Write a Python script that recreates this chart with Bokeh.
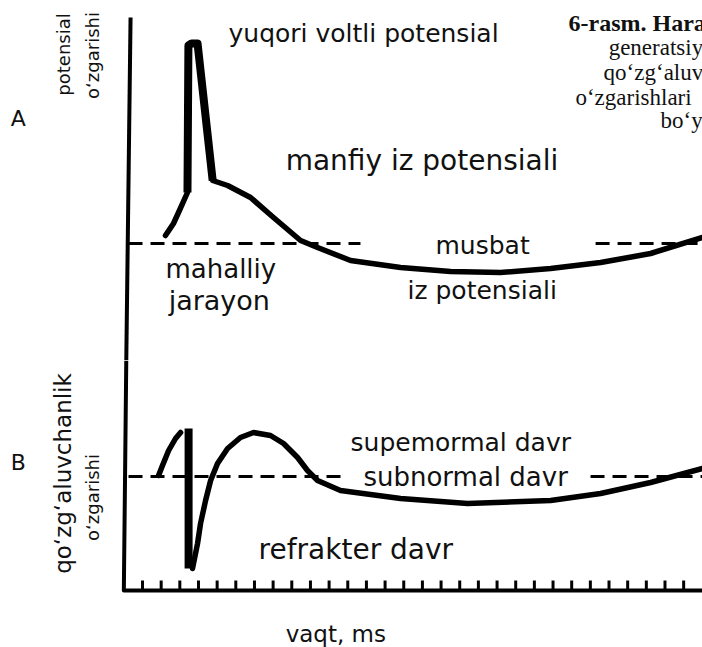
from bokeh.plotting import figure
from bokeh.layouts import column
from bokeh.models import Range1d
from bokeh.core.properties import value
from bokeh.embed import file_html
from bokeh.resources import INLINE
import math

# ---------------- data (time in tick units, ms) ----------------
# Panel A: membrane potential change (baseline = 0)
a_t = [2.23, 2.66, 2.93, 3.41, 3.46, 3.63, 3.95, 4.76, 5.56, 6.79, 8.02, 9.47,
       10.38, 12.15, 14.83, 17.51, 20.19, 22.87, 25.55, 28.23, 31.01]
a_v = [4.0, 10.0, 15.5, 25.5, 99.0, 100.0, 100.0, 31.5, 29.0, 23.0, 13.0, 1.5,
       -2.0, -8.5, -12.0, -14.0, -14.5, -12.5, -9.5, -5.0, 3.0]
# spike part (drawn heavier)
spike_t = [3.41, 3.46, 3.63, 3.95, 4.76]
spike_v = [25.5, 99.0, 100.0, 100.0, 31.5]

# Panel B: excitability change (baseline = 0)
b_left_t = [1.86, 2.07, 2.40, 2.77, 3.04]
b_left_e = [1, 11, 26, 38, 44]
b_bar_t = [3.47, 3.47]
b_bar_e = [48, -92]
b_right_t = [3.68, 3.95, 4.11, 4.38, 4.65, 5.02, 5.56, 6.25, 6.95, 7.86, 8.56,
             9.31, 9.84, 10.38, 11.61, 14.83, 18.42, 22.87, 25.55, 28.23, 31.01]
b_right_e = [-92, -67, -47, -24, -4, 13, 28, 39, 44, 41, 33,
             19, 6, -4, -14, -22, -27, -24, -17, -6, 8]

# dashed baselines (segments in time)
a_base_t0 = [0.25, 25.28]
a_base_t1 = [12.68, 31.2]
b_base_t0 = [0.25, 25.01]
b_base_t1 = [11.88, 31.2]

# time ticks
tick_times = list(range(1, 31))

# axes frame
axis_a_t = [0.36, 0.13]
axis_a_v = [113, -58.5]
axis_b_t = [0.13, 0.0, 31.2]
axis_b_e = [116, -114, -114]
tick_base = -114
tick_top = -104

TXT = "DejaVu Sans"
SERIF = "Liberation Serif"

x_rng = Range1d(-6.61, 31.01)


def make_fig(h, y0, y1):
    p = figure(width=702, height=h, x_range=x_rng, y_range=Range1d(y0, y1),
               output_backend="svg", toolbar_location=None,
               x_axis_location=None, y_axis_location=None,
               min_border=0, min_border_left=0, min_border_right=0,
               min_border_top=0, min_border_bottom=0,
               outline_line_color=None, background_fill_color="white",
               border_fill_color="white")
    p.grid.visible = False
    return p


# ---------------- panel A ----------------
pa = make_fig(360, -58.5, 121.5)
pa.line(axis_a_t, axis_a_v, line_color="black", line_width=4)
pa.segment(x0=a_base_t0, y0=[0, 0], x1=a_base_t1, y1=[0, 0],
           line_color="black", line_width=3, line_dash="14 8")
pa.line(a_t, a_v, line_color="black", line_width=5.5, line_join="round",
        line_cap="round")
pa.line(spike_t, spike_v, line_color="black", line_width=8, line_join="round")

pa.text(x=[-5.66], y=[62.5], text=["A"], text_font=value(TXT),
        text_font_size="22px", text_align="center", text_baseline="middle",
        text_color="#111111")
pa.text(x=[-3.23, -1.68], y=[94.5, 94], text=["potensial", "o‘zgarishi"],
        angle=math.pi / 2, text_font=value(TXT), text_font_size="18px",
        text_align="center", text_baseline="middle", text_color="#111111")

a_labels = ["yuqori voltli potensial", "manfiy iz potensiali", "musbat",
            "iz potensiali", "mahalliy", "jarayon"]
a_lab_t = [5.61, 8.67, 16.7, 15.2, 2.23, 2.40]
a_lab_v = [105, 41.5, -1, -23.5, -12.5, -28.5]
a_lab_size = ["25px", "28px", "25px", "25px", "26px", "27px"]
pa.text(x=a_lab_t, y=a_lab_v, text=a_labels, text_font=value(TXT),
        text_font_size=a_lab_size, text_align="left", text_baseline="middle",
        text_color="#111111")

cap_lines = ["6-rasm. Hara", "generatsiy", "qo‘zg‘aluv", "o‘zgarishlari", "bo‘y"]
cap_t = [23.83, 25.98, 25.71, 24.2, 28.76]
cap_v = [110.5, 98, 85.5, 73, 61.5]
pa.text(x=cap_t[:1], y=cap_v[:1], text=cap_lines[:1], text_font=value(SERIF),
        text_font_size="24px", text_font_style="bold", text_align="left",
        text_baseline="middle", text_color="#111111")
pa.text(x=cap_t[1:], y=cap_v[1:], text=cap_lines[1:], text_font=value(SERIF),
        text_font_size="23px", text_align="left", text_baseline="middle",
        text_color="#111111")

# ---------------- panel B ----------------
pb = make_fig(287, -171, 116)
pb.line(axis_b_t, axis_b_e, line_color="black", line_width=4, line_join="round")
pb.segment(x0=tick_times, y0=[tick_base] * len(tick_times), x1=tick_times,
           y1=[tick_top] * len(tick_times), line_color="black", line_width=3)
pb.segment(x0=b_base_t0, y0=[0, 0], x1=b_base_t1, y1=[0, 0],
           line_color="black", line_width=3, line_dash="14 8")
pb.line(b_left_t, b_left_e, line_color="black", line_width=5.5,
        line_join="round", line_cap="round")
pb.line(b_bar_t, b_bar_e, line_color="black", line_width=8)
pb.line(b_right_t, b_right_e, line_color="black", line_width=5.5,
        line_join="round", line_cap="round")

pb.text(x=[-5.66], y=[14], text=["B"], text_font=value(TXT),
        text_font_size="22px", text_align="center", text_baseline="middle",
        text_color="#111111")
pb.text(x=[-3.28], y=[3], text=["qo‘zg‘aluvchanlik"], angle=math.pi / 2,
        text_font=value(TXT), text_font_size="23px", text_align="center",
        text_baseline="middle", text_color="#111111")
pb.text(x=[-1.68], y=[-21], text=["o‘zgarishi"], angle=math.pi / 2,
        text_font=value(TXT), text_font_size="18px", text_align="center",
        text_baseline="middle", text_color="#111111")

b_labels = ["supemormal davr", "subnormal davr", "refrakter davr", "vaqt, ms"]
b_lab_t = [12.15, 12.84, 7.22, 8.67]
b_lab_e = [34, 0, -73, -157]
b_lab_size = ["25px", "26px", "28px", "23px"]
pb.text(x=b_lab_t, y=b_lab_e, text=b_labels, text_font=value(TXT),
        text_font_size=b_lab_size, text_align="left", text_baseline="middle",
        text_color="#111111")

layout = column(pa, pb, spacing=0)
open("out.html", "w").write(file_html(layout, INLINE))
